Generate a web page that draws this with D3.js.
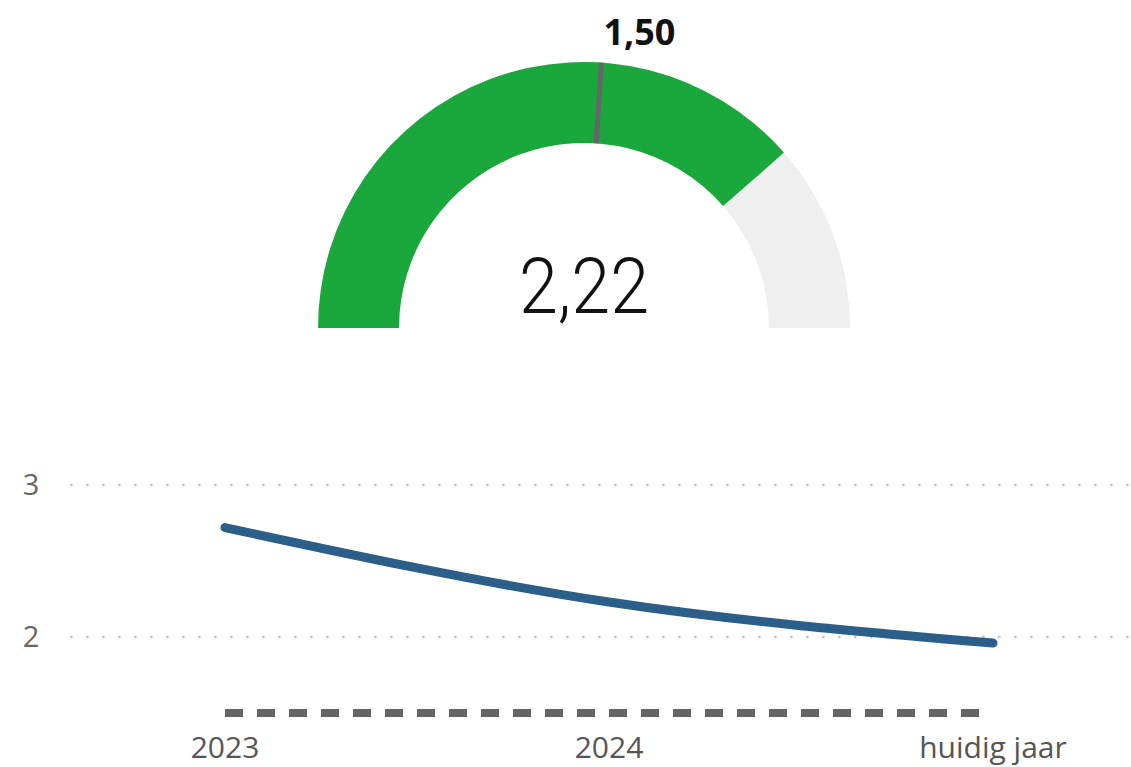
<!DOCTYPE html>
<html lang="nl">
  <script src="https://d3js.org/d3.v7.min.js"></script>
  <style>
    body { margin: 0; background: #fff; }
    svg { display: block; font-family: "Segoe UI", "Open Sans", sans-serif; }
  </style>
  <body>
    <svg width="1131" height="767"></svg>
    <script>
      // gauge values
      const gaugeMin = 0;
      const gaugeMax = 2.88;
      const gaugeValue = 2.22;
      const gaugeTarget = 1.5;

      // line chart values
      const years = ["2023", "2024", "huidig jaar"];
      const values = [2.72, 2.23, 1.96];
      const targets = [1.5, 1.5, 1.5];
      const yTicks = [2, 3];

      const svg = d3.select("svg");
      const fmt = (v) => d3.format(".2f")(v).replace(".", ",");

      // ---- gauge ----
      const g = svg.append("g").attr("transform", "translate(584,328)");
      const ang = d3.scaleLinear().domain([gaugeMin, gaugeMax]).range([-Math.PI / 2, Math.PI / 2]);
      const arc = d3.arc().innerRadius(185).outerRadius(266);

      g.append("path")
        .attr("d", arc({ startAngle: ang(gaugeMin), endAngle: ang(gaugeMax) }))
        .attr("fill", "#efefef");
      g.append("path")
        .attr("d", arc({ startAngle: ang(gaugeMin), endAngle: ang(gaugeValue) }))
        .attr("fill", "#1aa83d");

      const ta = ang(gaugeTarget);
      g.append("line")
        .attr("x1", Math.sin(ta) * 185)
        .attr("y1", -Math.cos(ta) * 185)
        .attr("x2", Math.sin(ta) * 266)
        .attr("y2", -Math.cos(ta) * 266)
        .attr("stroke", "#666")
        .attr("stroke-width", 5);

      g.append("text")
        .attr("x", Math.sin(ta) * 266 + 38)
        .attr("y", -Math.cos(ta) * 266 - 18)
        .attr("text-anchor", "middle")
        .attr("font-size", 36)
        .attr("font-weight", "bold")
        .attr("fill", "#111")
        .text(fmt(gaugeTarget));

      g.append("text")
        .attr("x", 0)
        .attr("y", -15)
        .attr("text-anchor", "middle")
        .attr("font-family", "Roboto, sans-serif")
        .attr("font-weight", 300)
        .attr("font-size", 78)
        .attr("textLength", 130)
        .attr("lengthAdjust", "spacingAndGlyphs")
        .attr("fill", "#111")
        .text(fmt(gaugeValue));

      // ---- line chart ----
      const x = d3.scalePoint().domain(years).range([225, 993]);
      const y = d3.scaleLinear().domain([2, 3]).range([637, 485]);

      svg.append("g")
        .selectAll("line")
        .data(yTicks)
        .join("line")
        .attr("x1", 70)
        .attr("x2", 1131)
        .attr("y1", (d) => y(d))
        .attr("y2", (d) => y(d))
        .attr("stroke", "#c4c4c4")
        .attr("stroke-width", 2.5)
        .attr("stroke-dasharray", "2.5,13.5");

      svg.append("g")
        .selectAll("text")
        .data(yTicks)
        .join("text")
        .attr("x", 31)
        .attr("y", (d) => y(d) + 10)
        .attr("text-anchor", "middle")
        .attr("font-size", 29)
        .attr("fill", "#666")
        .text((d) => d);

      svg.append("g")
        .selectAll("text")
        .data(years)
        .join("text")
        .attr("x", (d) => x(d))
        .attr("y", 758)
        .attr("text-anchor", "middle")
        .attr("font-size", 30)
        .attr("fill", "#555")
        .text((d) => d);

      // target dashed line
      svg.append("path")
        .datum(targets)
        .attr("d", d3.line().x((d, i) => x(years[i])).y((d) => y(d)))
        .attr("fill", "none")
        .attr("stroke", "#636363")
        .attr("stroke-width", 8)
        .attr("stroke-dasharray", "18,14");

      // value line
      svg.append("path")
        .datum(values)
        .attr("d", d3.line().x((d, i) => x(years[i])).y((d) => y(d)).curve(d3.curveMonotoneX))
        .attr("fill", "none")
        .attr("stroke", "#2b5f8a")
        .attr("stroke-width", 9)
        .attr("stroke-linecap", "round");
    </script>
  </body>
</html>
